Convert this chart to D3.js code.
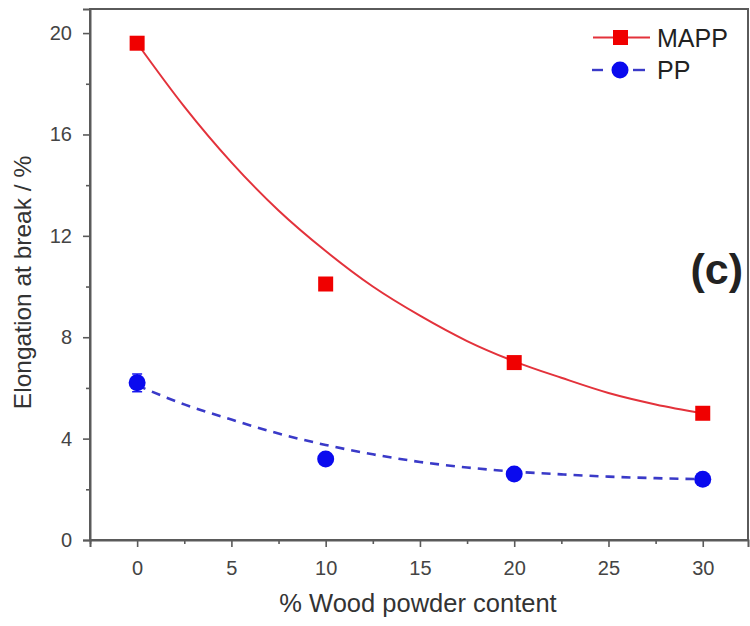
<!DOCTYPE html>
<html>
<head>
<meta charset="utf-8">
<script src="https://cdn.jsdelivr.net/npm/d3@7"></script>
<style>
  html, body { margin: 0; padding: 0; background: #fff; }
  svg { display: block; font-family: Arial, "Liberation Sans", sans-serif; }
</style>
</head>
<body>
<svg id="chart" width="750" height="626"></svg>
<script>
// Measured elongation at break (%) vs wood powder content (%)
const woodContent = [0, 10, 20, 30];
const mappValues = [19.6, 10.1, 7.0, 5.0];
const ppValues = [6.2, 3.2, 2.6, 2.4];
const ppErrors = [0.35, 0.15, 0.1, 0.1];

// Fitted decay curves, sampled along the content axis
const fitContent = [0, 2.5, 5, 7.5, 10, 12.5, 15, 17.5, 20, 22.5, 25, 27.5, 30];
const mappFit = [19.6, 17.1, 14.9, 13.0, 11.4, 10.0, 8.85, 7.85, 7.05, 6.4, 5.8, 5.35, 5.0];
const ppFit = [6.1, 5.35, 4.75, 4.2, 3.75, 3.38, 3.08, 2.86, 2.7, 2.59, 2.5, 2.44, 2.4];

const xTicks = [0, 5, 10, 15, 20, 25, 30];
const yTicks = [0, 4, 8, 12, 16, 20];
const seriesNames = ["MAPP", "PP"];

const svg = d3.select("#chart");
const plotLeft = 90, plotRight = 748, plotTop = 9, plotBottom = 540;

const x = d3.scaleLinear().domain([-2.5, 32.4]).range([plotLeft, plotRight]);
const y = d3.scaleLinear().domain([0, 20.95]).range([plotBottom, plotTop]);

const axisColor = "#5a5a5a";
const textColor = "#333";

// Frame
svg.append("rect")
  .attr("x", plotLeft).attr("y", plotTop)
  .attr("width", plotRight - plotLeft).attr("height", plotBottom - plotTop)
  .attr("fill", "none").attr("stroke", axisColor).attr("stroke-width", 2);

// Bottom axis: major and minor ticks
svg.append("g").attr("transform", `translate(0,${plotBottom})`)
  .call(d3.axisBottom(x).tickValues(xTicks).tickSize(7).tickPadding(14).tickFormat(d3.format("d")));
svg.append("g").attr("transform", `translate(0,${plotBottom})`)
  .call(d3.axisBottom(x).tickValues(d3.range(-2.5, 32.5, 5)).tickSize(4).tickFormat(""))
  .call(g => g.select(".domain").remove());

// Left axis: major and minor ticks
svg.append("g").attr("transform", `translate(${plotLeft},0)`)
  .call(d3.axisLeft(y).tickValues(yTicks).tickSize(7).tickPadding(11).tickFormat(d3.format("d")));
svg.append("g").attr("transform", `translate(${plotLeft},0)`)
  .call(d3.axisLeft(y).tickValues([2, 6, 10, 14, 18]).tickSize(4).tickFormat(""))
  .call(g => g.select(".domain").remove());

svg.selectAll(".domain").attr("stroke", axisColor).attr("stroke-width", 2);
svg.selectAll(".tick line").attr("stroke", axisColor).attr("stroke-width", 1.6);
svg.selectAll(".tick text").attr("fill", "#444").style("font-size", "20px")
  .style("font-family", "Arial, 'Liberation Sans', sans-serif");

// Axis titles
svg.append("text")
  .attr("x", (plotLeft + plotRight) / 2 - 1).attr("y", 612)
  .attr("text-anchor", "middle").attr("fill", textColor)
  .style("font-size", "25.5px")
  .text("% Wood powder content");
svg.append("text")
  .attr("transform", `translate(31,${(plotTop + plotBottom) / 2 + 8}) rotate(-90)`)
  .attr("text-anchor", "middle").attr("fill", textColor)
  .style("font-size", "24.5px")
  .text("Elongation at break / %");

// Fitted curves
const line = d3.line().curve(d3.curveMonotoneX);
svg.append("path")
  .attr("d", line(fitContent.map((c, i) => [x(c), y(mappFit[i])])))
  .attr("fill", "none").attr("stroke", "#e3323b").attr("stroke-width", 2);
svg.append("path")
  .attr("d", line(fitContent.map((c, i) => [x(c), y(ppFit[i])])))
  .attr("fill", "none").attr("stroke", "#3a3ac8").attr("stroke-width", 2.6)
  .attr("stroke-dasharray", "9,7");

// PP error bars
const eb = svg.append("g").attr("stroke", "#1a1aee").attr("stroke-width", 1.5);
woodContent.forEach((c, i) => {
  const y0 = y(ppValues[i] - ppErrors[i]), y1 = y(ppValues[i] + ppErrors[i]);
  eb.append("line").attr("x1", x(c)).attr("x2", x(c)).attr("y1", y0).attr("y2", y1);
  eb.append("line").attr("x1", x(c) - 5).attr("x2", x(c) + 5).attr("y1", y0).attr("y2", y0);
  eb.append("line").attr("x1", x(c) - 5).attr("x2", x(c) + 5).attr("y1", y1).attr("y2", y1);
});

// Markers
const sq = 15;
svg.append("g").selectAll("rect").data(woodContent).join("rect")
  .attr("x", d => x(d) - sq / 2).attr("y", (d, i) => y(mappValues[i]) - sq / 2)
  .attr("width", sq).attr("height", sq).attr("fill", "#f00000");
svg.append("g").selectAll("circle").data(woodContent).join("circle")
  .attr("cx", d => x(d)).attr("cy", (d, i) => y(ppValues[i]))
  .attr("r", 8.5).attr("fill", "#0a0aee");

// Legend
const lg = svg.append("g");
// MAPP: solid line through a square
lg.append("line").attr("x1", 593).attr("x2", 650).attr("y1", 37.5).attr("y2", 37.5)
  .attr("stroke", "#e3323b").attr("stroke-width", 2);
lg.append("rect").attr("x", 613).attr("y", 30).attr("width", 15).attr("height", 15).attr("fill", "#f00000");
lg.append("text").attr("x", 657).attr("y", 47).attr("fill", "#222")
  .style("font-size", "25px").text(seriesNames[0]);
// PP: short dashes either side of a circle
[[592, 603], [633, 645]].forEach(([a, b]) => {
  lg.append("line").attr("x1", a).attr("x2", b).attr("y1", 70).attr("y2", 70)
    .attr("stroke", "#3a3ac8").attr("stroke-width", 2.4);
});
lg.append("circle").attr("cx", 620).attr("cy", 70).attr("r", 8.5).attr("fill", "#0a0aee");
lg.append("text").attr("x", 657).attr("y", 79).attr("fill", "#222")
  .style("font-size", "25px").text(seriesNames[1]);

// Panel label
svg.append("text").attr("x", 743).attr("y", 284).attr("text-anchor", "end")
  .attr("fill", "#222").style("font-size", "43px").style("font-weight", "bold")
  .text("(c)");
</script>
</body>
</html>
